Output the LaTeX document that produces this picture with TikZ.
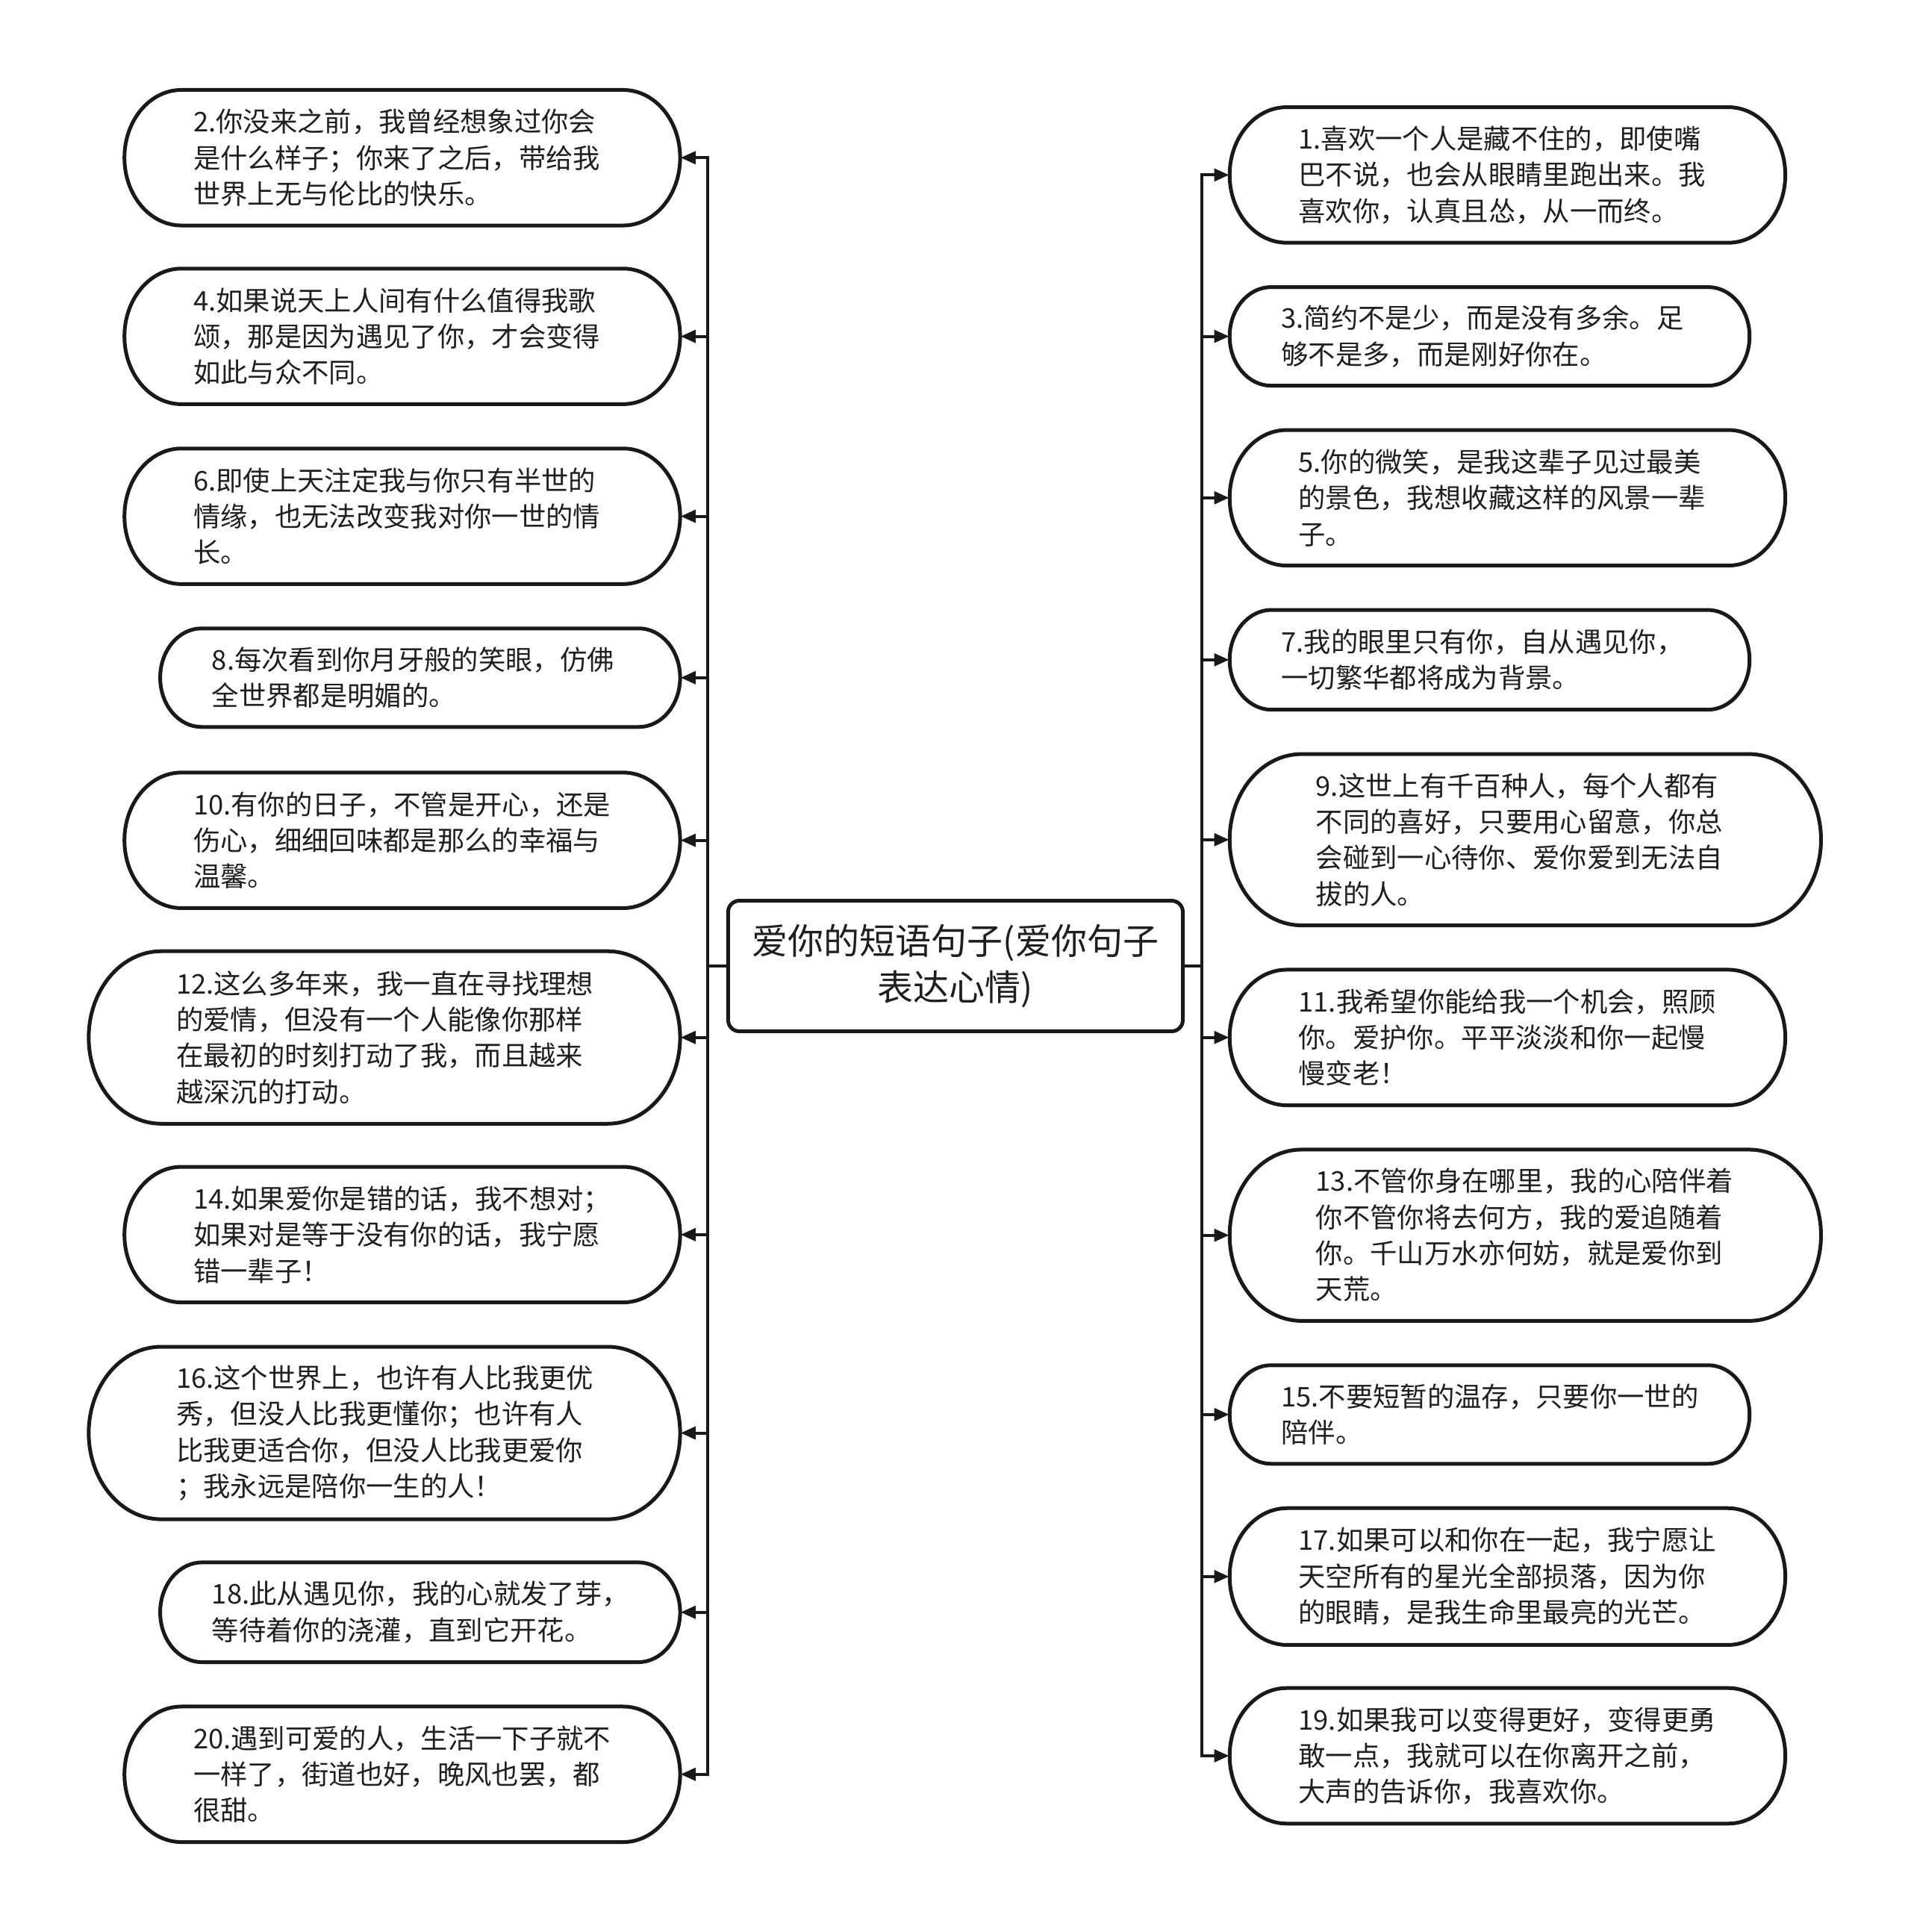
\documentclass[tikz,border=0pt]{standalone}
\usepackage{fontspec}
\setmainfont{Noto Sans CJK SC}
\usetikzlibrary{arrows.meta}
\def\U{0.49515pt}
\tikzset{
  itembox/.style={inner sep=0pt, align=left, text=black!88,
    font={\fontsize{10.9pt}{14.5pt}\selectfont}},
  pillline/.style={line width=1.5pt, draw=black!90, fill=white},
  centerbox/.style={draw=black!90, line width=1.5pt, rounded corners=4.5pt, fill=white,
    inner sep=0pt, align=center, text=black!88,
    font={\fontsize{14.4pt}{18.8pt}\selectfont}},
  conn/.style={line width=1.2pt, draw=black!90, -{Triangle[length=6pt,width=5pt]}}
}
\newcommand\pillitem[7]{%
  \draw[pillline] ({#2+0.42*(#5-#3)},#3) -- ({#4-0.42*(#5-#3)},#3)
    arc[start angle=90,end angle=-90,x radius={0.42*(#5-#3)*\U},y radius={(#5-#3)/2*\U}]
    -- ({#2+0.42*(#5-#3)},#5)
    arc[start angle=270,end angle=90,x radius={0.42*(#5-#3)*\U},y radius={(#5-#3)/2*\U}]
    -- cycle;
  \node[itembox, minimum width={(#4-#2)*\U}, minimum height={(#5-#3)*\U},
    text width={(#4-#2-2*#6)*\U}] (#1) at ({(#2+#4)/2},{(#3+#5)/2}) {#7};
}
\begin{document}
\begin{tikzpicture}[x=\U, y=-\U]
\fill[white] (0,0) rectangle (1551,1568);
\useasboundingbox (0,0) rectangle (1551,1568);

\node[centerbox, minimum width={369*\U}, minimum height={106*\U}] (c) at (775.5,784)
  {爱你的短语句子(爱你句子\\表达心情)};

% left
\pillitem{n2}{101}{73}{552}{183}{56}{2.你没来之前，我曾经想象过你会\\是什么样子；你来了之后，带给我\\世界上无与伦比的快乐。}
\pillitem{n4}{101}{218}{552}{328}{56}{4.如果说天上人间有什么值得我歌\\颂，那是因为遇见了你，才会变得\\如此与众不同。}
\pillitem{n6}{101}{364}{552}{474}{56}{6.即使上天注定我与你只有半世的\\情缘，也无法改变我对你一世的情\\长。}
\pillitem{n8}{130}{510}{552}{590}{42}{8.每次看到你月牙般的笑眼，仿佛\\全世界都是明媚的。}
\pillitem{n10}{101}{627}{552}{737}{56}{10.有你的日子，不管是开心，还是\\伤心，细细回味都是那么的幸福与\\温馨。}
\pillitem{n12}{72}{772}{552}{912}{71}{12.这么多年来，我一直在寻找理想\\的爱情，但没有一个人能像你那样\\在最初的时刻打动了我，而且越来\\越深沉的打动。}
\pillitem{n14}{101}{947}{552}{1057}{56}{14.如果爱你是错的话，我不想对；\\如果对是等于没有你的话，我宁愿\\错一辈子！}
\pillitem{n16}{72}{1093}{552}{1233}{71}{16.这个世界上，也许有人比我更优\\秀，但没人比我更懂你；也许有人\\比我更适合你，但没人比我更爱你\\；我永远是陪你一生的人！}
\pillitem{n18}{130}{1268}{552}{1349}{42}{18.此从遇见你，我的心就发了芽，\\等待着你的浇灌，直到它开花。}
\pillitem{n20}{101}{1385}{552}{1495}{56}{20.遇到可爱的人，生活一下子就不\\一样了，街道也好，晚风也罢，都\\很甜。}

% right
\pillitem{n1}{998}{87}{1449}{197}{56}{1.喜欢一个人是藏不住的，即使嘴\\巴不说，也会从眼睛里跑出来。我\\喜欢你，认真且怂，从一而终。}
\pillitem{n3}{998}{233}{1420}{313}{42}{3.简约不是少，而是没有多余。足\\够不是多，而是刚好你在。}
\pillitem{n5}{998}{349}{1449}{459}{56}{5.你的微笑，是我这辈子见过最美\\的景色，我想收藏这样的风景一辈\\子。}
\pillitem{n7}{998}{495}{1420}{576}{42}{7.我的眼里只有你，自从遇见你，\\一切繁华都将成为背景。}
\pillitem{n9}{998}{612}{1478}{751}{70}{9.这世上有千百种人，每个人都有\\不同的喜好，只要用心留意，你总\\会碰到一心待你、爱你爱到无法自\\拔的人。}
\pillitem{n11}{998}{787}{1449}{897}{56}{11.我希望你能给我一个机会，照顾\\你。爱护你。平平淡淡和你一起慢\\慢变老！}
\pillitem{n13}{998}{933}{1478}{1072}{70}{13.不管你身在哪里，我的心陪伴着\\你不管你将去何方，我的爱追随着\\你。千山万水亦何妨，就是爱你到\\天荒。}
\pillitem{n15}{998}{1108}{1420}{1188}{42}{15.不要短暂的温存，只要你一世的\\陪伴。}
\pillitem{n17}{998}{1224}{1449}{1335}{56}{17.如果可以和你在一起，我宁愿让\\天空所有的星光全部损落，因为你\\的眼睛，是我生命里最亮的光芒。}
\pillitem{n19}{998}{1370}{1449}{1480}{56}{19.如果我可以变得更好，变得更勇\\敢一点，我就可以在你离开之前，\\大声的告诉你，我喜欢你。}

% connectors
\foreach \n in {n2,n4,n6,n8,n10,n12,n14,n16,n18,n20}
  \draw[conn] (c.west) -- ++(-15,0) |- (\n.east);
\foreach \n in {n1,n3,n5,n7,n9,n11,n13,n15,n17,n19}
  \draw[conn] (c.east) -- ++(14,0) |- (\n.west);
\end{tikzpicture}
\end{document}
